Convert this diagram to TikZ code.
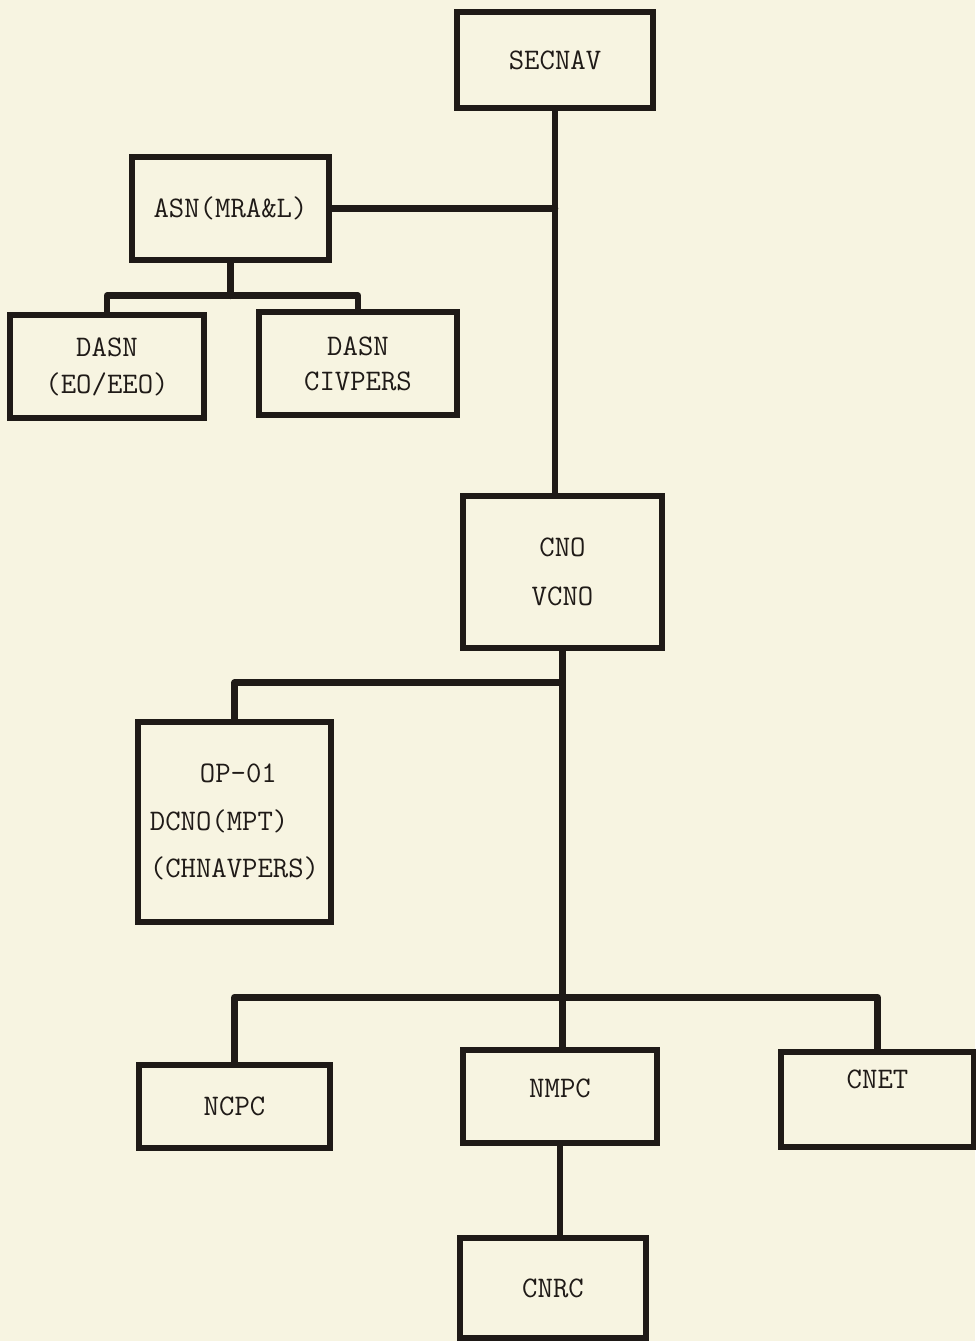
\documentclass[tikz,border=0pt]{standalone}
\usepackage{fontspec}
\usepackage{tikz}
\usetikzlibrary{positioning, calc}
\definecolor{paperBg}{HTML}{F7F4E1}
\definecolor{inkDark}{HTML}{1F1A17}

\begin{document}
\begin{tikzpicture}[
    % ── shared styles ───────────────────────────────────────────────
    org box/.style={
        rectangle, draw=inkDark, line width=3.2pt,
        font={\ttfamily\fontsize{17}{20}\selectfont}, text=inkDark,
        inner sep=2pt, align=center,
    },
    org line/.style={
        draw=inkDark, line width=3.8pt, line cap=round, line join=round,
    },
]

% =============================================================
%  PAGE
% =============================================================
\fill[paperBg] (0,0) rectangle (19.5,-26.82);
\useasboundingbox (0,0) rectangle (19.5,-26.82);

% =============================================================
%  SECRETARY LEVEL
% =============================================================
\node[org box, minimum width=3.92cm, minimum height=1.92cm] (secnav)
    at (11.1,-1.2) {SECNAV};

\node[org box, minimum width=3.94cm, minimum height=2.06cm] (asn)
    at (4.61,-4.17) {ASN(MRA\&L)};

\node[org box, minimum width=3.88cm, minimum height=2.06cm] (dasneo)
    at (2.14,-7.33) {DASN\\[1pt](EO/EEO)};

\node[org box, minimum width=3.96cm, minimum height=2.06cm] (dasnciv)
    at (7.16,-7.27) {DASN\\CIVPERS};

% =============================================================
%  CNO LEVEL
% =============================================================
\node[org box, minimum width=3.98cm, minimum height=3.04cm] (cno)
    at (11.25,-11.44) {CNO\\[8pt]VCNO};

\node[org box, minimum width=3.86cm, minimum height=4.0cm, align=left] (op01)
    at (4.69,-16.44) {\hspace*{1cm}OP-01\\[7pt]DCNO(MPT)\\[7pt](CHNAVPERS)};

% =============================================================
%  COMMANDS
% =============================================================
\node[org box, minimum width=3.82cm, minimum height=1.66cm] (ncpc)
    at (4.69,-22.13) {NCPC};

\node[org box, minimum width=3.88cm, minimum height=1.86cm,
      text depth=0.35cm] (nmpc)
    at (11.2,-21.93) {NMPC};

\node[org box, minimum width=3.86cm, minimum height=1.9cm,
      text depth=0.8cm] (cnet)
    at (17.55,-21.99) {CNET};

\node[org box, minimum width=3.72cm, minimum height=2.0cm] (cnrc)
    at (11.06,-25.76) {CNRC};

% =============================================================
%  Connection lines
% =============================================================
% trunk SECNAV -> CNO
\draw[org line] (secnav.south) -- (secnav.south |- cno.north);
\draw[org line] (asn.east) -- (asn.east -| secnav.south);

% ASN -> deputies
\coordinate (asnbus) at ($(asn.south)+(0,-0.66)$);
\draw[org line] (asn.south) -- (asnbus);
\draw[org line] (dasneo.north) |- (asnbus) -| (dasnciv.north);

% trunk CNO -> NMPC
\draw[org line] (cno.south) -- (cno.south |- nmpc.north);
\coordinate (opbus) at ($(cno.south)+(0,-0.64)$);
\draw[org line] (op01.north) |- (opbus);

% commands bus
\coordinate (lowbus) at ($(nmpc.north)+(0,1.0)$);
\draw[org line] (ncpc.north) |- (lowbus) -| (cnet.north);

% NMPC -> CNRC
\draw[org line] (nmpc.south) -- (nmpc.south |- cnrc.north);

\end{tikzpicture}
\end{document}
